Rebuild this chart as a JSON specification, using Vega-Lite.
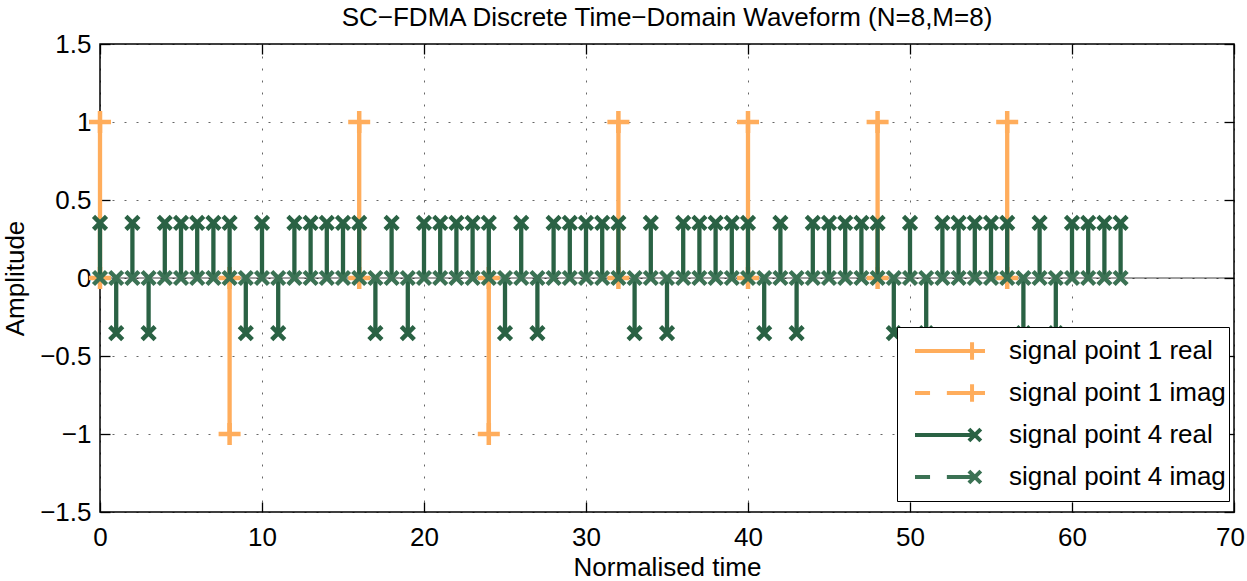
{
  "$schema": "https://vega.github.io/schema/vega-lite/v6.json",
  "width": 1134,
  "height": 468,
  "autosize": "none",
  "padding": {"left": 100, "top": 44, "right": 13, "bottom": 69},
  "background": "white",
  "config": {
    "view": {"stroke": "#000", "strokeWidth": 1.5},
    "font": "Liberation Sans",
    "axis": {
      "labelFont": "Liberation Sans",
      "labelFontSize": 26,
      "labelColor": "#000",
      "labelFlush": false,
      "titleFont": "Liberation Sans",
      "titleFontSize": 26,
      "titleFontWeight": "normal",
      "titleColor": "#000",
      "domain": false,
      "tickColor": "#000",
      "tickSize": -10,
      "tickWidth": 1.3,
      "gridColor": "#000",
      "gridDash": [2, 10],
      "gridOpacity": 0.6,
      "gridWidth": 1
    }
  },
  "title": {
    "text": "SC−FDMA Discrete Time−Domain Waveform (N=8,M=8)",
    "font": "Liberation Sans",
    "fontSize": 26,
    "fontWeight": "normal",
    "color": "#000",
    "anchor": "middle",
    "frame": "group",
    "offset": 0.5
  },
  "datasets": {
    "p1r": [
      {"n": 0, "v": 1}, {"n": 8, "v": -1}, {"n": 16, "v": 1}, {"n": 24, "v": -1},
      {"n": 32, "v": 1}, {"n": 40, "v": 1}, {"n": 48, "v": 1}, {"n": 56, "v": 1}
    ],
    "p1i": [
      {"n": 0, "v": 0}, {"n": 8, "v": 0}, {"n": 16, "v": 0}, {"n": 24, "v": 0},
      {"n": 32, "v": 0}, {"n": 40, "v": 0}, {"n": 48, "v": 0}, {"n": 56, "v": 0}
    ],
    "p4r": [
      {"n": 0, "v": 0.3536}, {"n": 1, "v": -0.3536}, {"n": 2, "v": 0.3536}, {"n": 3, "v": -0.3536},
      {"n": 4, "v": 0.3536}, {"n": 5, "v": 0.3536}, {"n": 6, "v": 0.3536}, {"n": 7, "v": 0.3536},
      {"n": 8, "v": 0.3536}, {"n": 9, "v": -0.3536}, {"n": 10, "v": 0.3536}, {"n": 11, "v": -0.3536},
      {"n": 12, "v": 0.3536}, {"n": 13, "v": 0.3536}, {"n": 14, "v": 0.3536}, {"n": 15, "v": 0.3536},
      {"n": 16, "v": 0.3536}, {"n": 17, "v": -0.3536}, {"n": 18, "v": 0.3536}, {"n": 19, "v": -0.3536},
      {"n": 20, "v": 0.3536}, {"n": 21, "v": 0.3536}, {"n": 22, "v": 0.3536}, {"n": 23, "v": 0.3536},
      {"n": 24, "v": 0.3536}, {"n": 25, "v": -0.3536}, {"n": 26, "v": 0.3536}, {"n": 27, "v": -0.3536},
      {"n": 28, "v": 0.3536}, {"n": 29, "v": 0.3536}, {"n": 30, "v": 0.3536}, {"n": 31, "v": 0.3536},
      {"n": 32, "v": 0.3536}, {"n": 33, "v": -0.3536}, {"n": 34, "v": 0.3536}, {"n": 35, "v": -0.3536},
      {"n": 36, "v": 0.3536}, {"n": 37, "v": 0.3536}, {"n": 38, "v": 0.3536}, {"n": 39, "v": 0.3536},
      {"n": 40, "v": 0.3536}, {"n": 41, "v": -0.3536}, {"n": 42, "v": 0.3536}, {"n": 43, "v": -0.3536},
      {"n": 44, "v": 0.3536}, {"n": 45, "v": 0.3536}, {"n": 46, "v": 0.3536}, {"n": 47, "v": 0.3536},
      {"n": 48, "v": 0.3536}, {"n": 49, "v": -0.3536}, {"n": 50, "v": 0.3536}, {"n": 51, "v": -0.3536},
      {"n": 52, "v": 0.3536}, {"n": 53, "v": 0.3536}, {"n": 54, "v": 0.3536}, {"n": 55, "v": 0.3536},
      {"n": 56, "v": 0.3536}, {"n": 57, "v": -0.3536}, {"n": 58, "v": 0.3536}, {"n": 59, "v": -0.3536},
      {"n": 60, "v": 0.3536}, {"n": 61, "v": 0.3536}, {"n": 62, "v": 0.3536}, {"n": 63, "v": 0.3536}
    ],
    "p4i": [
      {"n": 0, "v": 0}, {"n": 1, "v": 0}, {"n": 2, "v": 0}, {"n": 3, "v": 0},
      {"n": 4, "v": 0}, {"n": 5, "v": 0}, {"n": 6, "v": 0}, {"n": 7, "v": 0},
      {"n": 8, "v": 0}, {"n": 9, "v": 0}, {"n": 10, "v": 0}, {"n": 11, "v": 0},
      {"n": 12, "v": 0}, {"n": 13, "v": 0}, {"n": 14, "v": 0}, {"n": 15, "v": 0},
      {"n": 16, "v": 0}, {"n": 17, "v": 0}, {"n": 18, "v": 0}, {"n": 19, "v": 0},
      {"n": 20, "v": 0}, {"n": 21, "v": 0}, {"n": 22, "v": 0}, {"n": 23, "v": 0},
      {"n": 24, "v": 0}, {"n": 25, "v": 0}, {"n": 26, "v": 0}, {"n": 27, "v": 0},
      {"n": 28, "v": 0}, {"n": 29, "v": 0}, {"n": 30, "v": 0}, {"n": 31, "v": 0},
      {"n": 32, "v": 0}, {"n": 33, "v": 0}, {"n": 34, "v": 0}, {"n": 35, "v": 0},
      {"n": 36, "v": 0}, {"n": 37, "v": 0}, {"n": 38, "v": 0}, {"n": 39, "v": 0},
      {"n": 40, "v": 0}, {"n": 41, "v": 0}, {"n": 42, "v": 0}, {"n": 43, "v": 0},
      {"n": 44, "v": 0}, {"n": 45, "v": 0}, {"n": 46, "v": 0}, {"n": 47, "v": 0},
      {"n": 48, "v": 0}, {"n": 49, "v": 0}, {"n": 50, "v": 0}, {"n": 51, "v": 0},
      {"n": 52, "v": 0}, {"n": 53, "v": 0}, {"n": 54, "v": 0}, {"n": 55, "v": 0},
      {"n": 56, "v": 0}, {"n": 57, "v": 0}, {"n": 58, "v": 0}, {"n": 59, "v": 0},
      {"n": 60, "v": 0}, {"n": 61, "v": 0}, {"n": 62, "v": 0}, {"n": 63, "v": 0}
    ],
    "leg": [
      {"s": "signal point 1 real"},
      {"s": "signal point 1 imag"},
      {"s": "signal point 4 real"},
      {"s": "signal point 4 imag"}
    ]
  },
  "resolve": {"axis": {"x": "independent", "y": "independent"}},
  "layer": [
    {
      "data": {"values": [{"b": 0}]},
      "mark": {"type": "rule", "color": "#000", "strokeWidth": 1, "opacity": 0.75},
      "encoding": {"y": {"datum": 0, "type": "quantitative", "axis": null}}
    },
    {
      "data": {"name": "p1r"},
      "mark": {"type": "rule", "color": "#ffad5c", "strokeWidth": 4.3},
      "encoding": {
        "x": {
          "field": "n", "type": "quantitative",
          "scale": {"domain": [0, 70], "nice": false, "zero": false},
          "axis": {"orient": "bottom", "values": [0, 10, 20, 30, 40, 50, 60, 70], "title": "Normalised time", "grid": true, "labelPadding": 22, "titlePadding": 4,
            "labelOffset": {"condition": {"test": "datum.value == 70", "value": -4}, "value": 0}}
        },
        "y": {
          "field": "v", "type": "quantitative",
          "scale": {"domain": [-1.5, 1.5], "nice": false},
          "axis": {"orient": "left", "values": [-1.5, -1, -0.5, 0, 0.5, 1, 1.5], "format": "~g", "title": "Amplitude", "grid": true, "labelPadding": 19, "titlePadding": 11}
        },
        "y2": {"datum": 0}
      }
    },
    {
      "data": {"name": "p1r"},
      "mark": {"type": "point", "shape": "M-1,0H1M0,-1V1", "size": 484, "filled": false, "color": "#ffad5c", "strokeWidth": 4.5, "opacity": 1},
      "encoding": {
        "x": {"field": "n", "type": "quantitative", "axis": null},
        "y": {"field": "v", "type": "quantitative", "axis": null}
      }
    },
    {
      "data": {"name": "p1i"},
      "mark": {"type": "point", "shape": "M-1,0H1M0,-1V1", "size": 484, "filled": false, "color": "#ffad5c", "strokeWidth": 4.5, "opacity": 1},
      "encoding": {
        "x": {"field": "n", "type": "quantitative", "axis": null},
        "y": {"field": "v", "type": "quantitative", "axis": null}
      }
    },
    {
      "data": {"name": "p4r"},
      "mark": {"type": "rule", "color": "#2a6244", "strokeWidth": 4.3},
      "encoding": {
        "x": {
          "field": "n", "type": "quantitative",
          "axis": {"orient": "top", "values": [0, 10, 20, 30, 40, 50, 60, 70], "title": null, "grid": false, "labels": false}
        },
        "y": {
          "field": "v", "type": "quantitative",
          "axis": {"orient": "right", "values": [-1.5, -1, -0.5, 0, 0.5, 1, 1.5], "title": null, "grid": false, "labels": false}
        },
        "y2": {"datum": 0}
      }
    },
    {
      "data": {"name": "p4r"},
      "mark": {"type": "point", "shape": "M-1,-1L1,1M-1,1L1,-1", "size": 169, "filled": false, "color": "#2a6244", "strokeWidth": 4.5, "opacity": 1},
      "encoding": {
        "x": {"field": "n", "type": "quantitative", "axis": null},
        "y": {"field": "v", "type": "quantitative", "axis": null}
      }
    },
    {
      "data": {"name": "p4i"},
      "mark": {"type": "point", "shape": "M-1,-1L1,1M-1,1L1,-1", "size": 169, "filled": false, "color": "#3b7254", "strokeWidth": 4.5, "opacity": 1},
      "encoding": {
        "x": {"field": "n", "type": "quantitative", "axis": null},
        "y": {"field": "v", "type": "quantitative", "axis": null}
      }
    },
    {
      "data": {"name": "leg"},
      "mark": {"type": "point", "filled": false, "opacity": 0, "strokeWidth": 4},
      "encoding": {
        "color": {
          "field": "s", "type": "nominal",
          "scale": {
            "domain": ["signal point 1 real", "signal point 1 imag", "signal point 4 real", "signal point 4 imag"],
            "range": ["#ffad5c", "#ffad5c", "#2a6244", "#3b7254"]
          },
          "legend": {
            "title": null, "orient": "none", "legendX": 797, "legendY": 283,
            "padding": 3, "strokeColor": "#000", "fillColor": "#fff",
            "symbolSize": 4900, "symbolStrokeWidth": 4, "symbolOffset": 13, "symbolOpacity": 1,
            "labelOffset": 22, "labelFont": "Liberation Sans", "labelFontSize": 26, "labelColor": "#000", "labelLimit": 400,
            "clipHeight": 42, "rowPadding": 0
          }
        },
        "shape": {
          "field": "s", "type": "nominal",
          "scale": {
            "domain": ["signal point 1 real", "signal point 1 imag", "signal point 4 real", "signal point 4 imag"],
            "range": [
              "M-1,0H1M0.63,-0.25V0.25",
              "M-1,0H-0.57M-0.09,0H1M0.63,-0.25V0.25",
              "M-1,0H0.71M0.54,-0.17L0.88,0.17M0.54,0.17L0.88,-0.17",
              "M-1,0H-0.57M-0.09,0H0.71M0.54,-0.17L0.88,0.17M0.54,0.17L0.88,-0.17"
            ]
          },
          "legend": {
            "title": null, "orient": "none", "legendX": 797, "legendY": 283,
            "padding": 3, "strokeColor": "#000", "fillColor": "#fff",
            "symbolSize": 4900, "symbolStrokeWidth": 4, "symbolOffset": 13, "symbolOpacity": 1,
            "labelOffset": 22, "labelFont": "Liberation Sans", "labelFontSize": 26, "labelColor": "#000", "labelLimit": 400,
            "clipHeight": 42, "rowPadding": 0
          }
        }
      }
    }
  ]
}
